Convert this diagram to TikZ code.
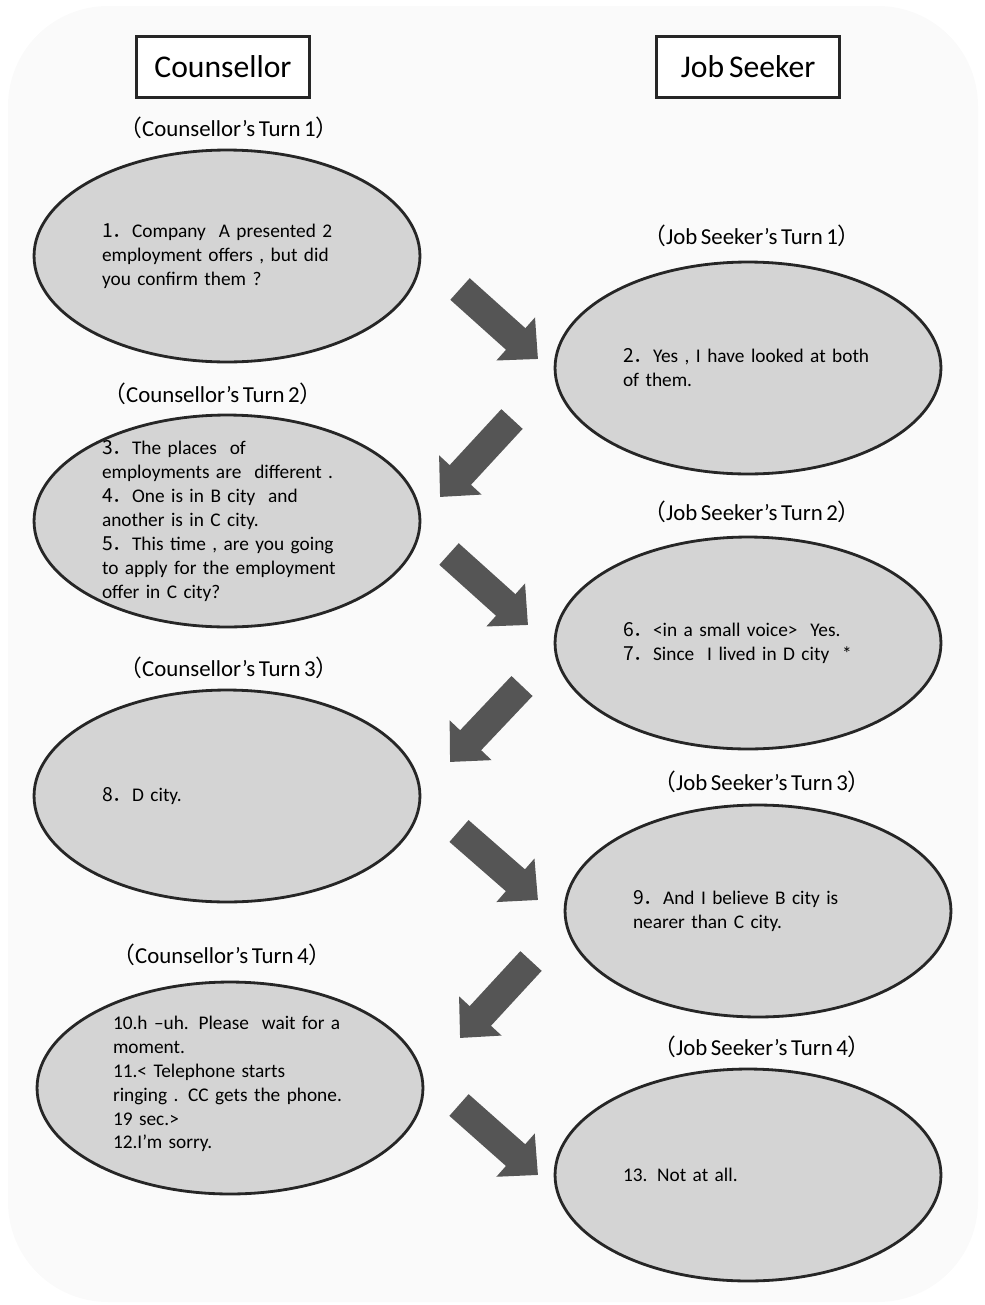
\documentclass[tikz,border=0pt]{standalone}
\usepackage{fontspec}
\setmainfont{Carlito}[WordSpace=0.7]
\newfontfamily\cjk{Noto Sans CJK JP}
\usepackage{xcolor}
\usepackage{tikz}
\usetikzlibrary{shapes.geometric}
\usetikzlibrary{arrows.meta}
\definecolor{ovalgray}{RGB}{212,212,212}
\definecolor{arrowgray}{RGB}{85,85,85}
\definecolor{pagegray}{RGB}{250,250,250}
\def\itemno#1{{\cjk #1．}}
\def\turnlabel#1{{\cjk （}#1{\cjk ）}}

\begin{document}
\begin{tikzpicture}[x=0.02cm,y=-0.02cm,
	oval/.style={ellipse,draw=black!85,line width=1.6pt,fill=ovalgray,minimum width=7.72cm,minimum height=4.24cm},
	talk/.style={text width=5cm,align=left,inner sep=0pt,font=\fontsize{11}{13.6}\selectfont},
	role/.style={draw=black!85,line width=2pt,fill=white,minimum height=1.22cm,font=\fontsize{18}{20}\selectfont},
	turn/.style={font=\fontsize{13}{15}\selectfont},
	blockarrow/.style={arrowgray,line width=0.58cm,-{Triangle[width=1.12cm,length=0.6cm]}}]
					\useasboundingbox (0,0) rectangle (984,1305);
					\fill[pagegray,rounded corners=2cm] (8,6) rectangle (978,1302);
					\node[role,minimum width=3.46cm] (counsellor) at (223,67) {Counsellor};
					\node[role,minimum width=3.66cm] (seeker) at (748,67) {Job Seeker};
					% counsellor side
					\node[turn] (cturn1) at (229,128) {\turnlabel{Counsellor’s Turn 1}};
					\node[oval] (c1) at (227,256) {};
					\node[talk] (c1text) at (c1) {\itemno{1}Company \ A presented 2\\employment offers , but did\\you confirm them ?};
					\node[turn] (cturn2) at (213,394) {\turnlabel{Counsellor’s Turn 2}};
					\node[oval] (c2) at (227,521) {};
					\node[talk] (c2text) at (c2) {\itemno{3}The places \ of\\employments are \ different .\\\itemno{4}One is in B city \ and\\another is in C city.\\\itemno{5}This time , are you going\\to apply for the employment\\offer in C city?};
					\node[turn] (cturn3) at (229,668) {\turnlabel{Counsellor’s Turn 3}};
					\node[oval] (c3) at (227,796) {};
					\node[talk] (c3text) at (c3) {\itemno{8}D city.};
					\node[turn] (cturn4) at (222,955) {\turnlabel{Counsellor’s Turn 4}};
					\node[oval] (c4) at (230,1088) {};
					\node[talk] (c4text) at (238,1084) {10.h –uh. Please \ wait for a\\moment.\\11.< Telephone starts\\ringing . CC gets the phone.\\19 sec.>\\12.I’m sorry.};
					% job seeker side
					\node[turn] (sturn1) at (752,236) {\turnlabel{Job Seeker’s Turn 1}};
					\node[oval] (s1) at (748,368) {};
					\node[talk] (s1text) at (s1) {\itemno{2}Yes , I have looked at both\\of them.};
					\node[turn] (sturn2) at (752,512) {\turnlabel{Job Seeker’s Turn 2}};
					\node[oval] (s2) at (748,643) {};
					\node[talk] (s2text) at (s2) {\itemno{6}<in a small voice> \ Yes.\\\itemno{7}Since \ I lived in D city \ *};
					\node[turn] (sturn3) at (762,782) {\turnlabel{Job Seeker’s Turn 3}};
					\node[oval] (s3) at (758,911) {};
					\node[talk] (s3text) at (s3) {\itemno{9}And I believe B city is\\nearer than C city.};
					\node[turn] (sturn4) at (762,1047) {\turnlabel{Job Seeker’s Turn 4}};
					\node[oval] (s4) at (748,1175) {};
					\node[talk] (s4text) at (s4) {13. Not at all.};
					% turn arrows
					\coordinate (from1) at (460,289);  \coordinate (to1) at (538,359);
					\coordinate (from2) at (512,419);  \coordinate (to2) at (440,497);
					\coordinate (from3) at (449,554);  \coordinate (to3) at (528,625);
					\coordinate (from4) at (522,686);  \coordinate (to4) at (450,762);
					\coordinate (from5) at (459,831);  \coordinate (to5) at (538,900);
					\coordinate (from6) at (531,961);  \coordinate (to6) at (460,1038);
					\coordinate (from7) at (459,1105); \coordinate (to7) at (538,1175);
					\draw[blockarrow] (from1)--(to1);
					\draw[blockarrow] (from2)--(to2);
					\draw[blockarrow] (from3)--(to3);
					\draw[blockarrow] (from4)--(to4);
					\draw[blockarrow] (from5)--(to5);
					\draw[blockarrow] (from6)--(to6);
					\draw[blockarrow] (from7)--(to7);
				\end{tikzpicture}
\end{document}
